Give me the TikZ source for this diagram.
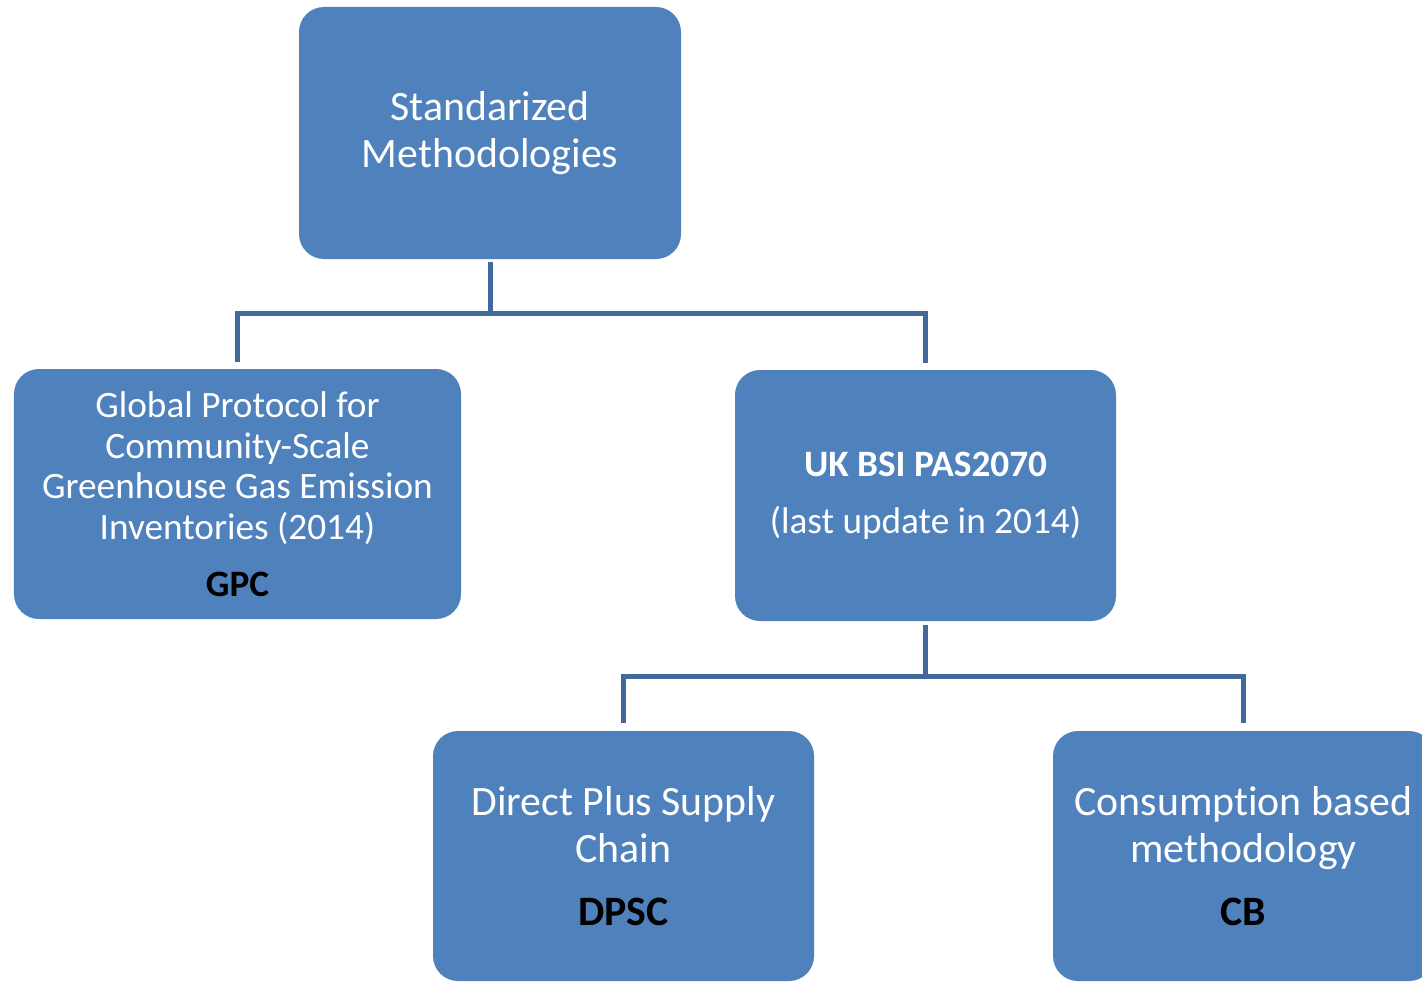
\documentclass[tikz,border=0pt]{standalone}
\usepackage{fontspec}
\setmainfont[Ligatures=NoCommon]{Carlito}
\definecolor{boxblue}{HTML}{4F81BD}
\definecolor{lineblue}{HTML}{41699C}
\tikzstyle{bbox}=[rectangle, rounded corners=5mm, fill=boxblue, text=white, align=center, inner sep=0pt, minimum width=76.2mm, minimum height=50.2mm]
\tikzstyle{link}=[draw=lineblue, line width=1mm]
\tikzstyle{bigtxt}=[font=\fontsize{23.8}{26.6}\selectfont]
\tikzstyle{midtxt}=[font=\fontsize{21.2}{23.2}\selectfont]

\begin{document}
\begin{tikzpicture}[x=0.2mm, y=-0.2mm]
\clip (0,0) rectangle (1422,981);

\node[bbox, bigtxt, minimum width=76.4mm, minimum height=50.4mm] (n1) at (490,133) {Standarized\\Methodologies};

\node[bbox, midtxt, minimum width=89.4mm, minimum height=50mm] (n2) at (237.5,494) {Global Protocol for\\Community-Scale\\Greenhouse Gas Emission\\Inventories (2014)\\[9pt]\textcolor{black}{\textbf{GPC}}};
\node[bbox, midtxt] (n3) at (925.5,495.5) {\textbf{UK BSI PAS2070}\\[9pt](last update in 2014)};

\node[bbox, bigtxt, minimum height=50mm] (n4) at (623.5,856) {Direct Plus Supply\\Chain\\[9.5pt]\textcolor{black}{\textbf{DPSC}}};
\node[bbox, bigtxt, minimum height=50mm] (n5) at (1243.5,856) {Consumption based\\methodology\\[9.5pt]\textcolor{black}{\textbf{CB}}};

\draw[link, shorten <=0.6mm, shorten >=1.4mm] (n1.south) -- ++(0,54) -| (n2.north);
\draw[link, shorten <=0.6mm, shorten >=1.4mm] (n1.south) -- ++(0,54) -| (n3.north);
\draw[link, shorten <=0.8mm, shorten >=1.6mm] (n3.south) -- ++(0,55) -| (n4.north);
\draw[link, shorten <=0.8mm, shorten >=1.6mm] (n3.south) -- ++(0,55) -| (n5.north);

\end{tikzpicture}
\end{document}
